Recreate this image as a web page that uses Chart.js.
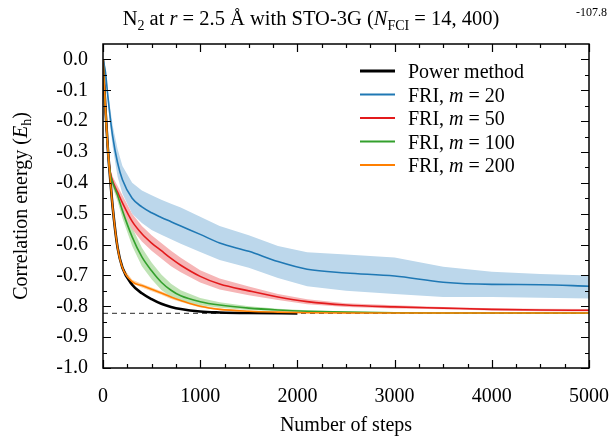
<!DOCTYPE html>
<html>
<head>
<meta charset="utf-8">
<script src="https://cdn.jsdelivr.net/npm/chart.js@4.4.1/dist/chart.umd.min.js"></script>
<style>
  html, body { margin: 0; padding: 0; background: #fff; }
  #wrap { width: 613px; height: 437px; }
</style>
</head>
<body>
<div id="wrap"><canvas id="chart" width="613" height="437"></canvas></div>
<script>
// ---- Data ----
const steps = [0, 25, 50, 75, 100, 150, 200, 300, 400, 500, 600, 700, 800, 1000, 1200, 1500, 1800, 2100, 2500, 3000, 3500, 4000, 4500, 5000];

const powerSteps = [0, 25, 50, 75, 100, 150, 200, 300, 400, 500, 600, 700, 800, 1000, 1200, 1500, 2000];
const powerE     = [0, -0.16, -0.29, -0.39, -0.48, -0.61, -0.675, -0.73, -0.758, -0.777, -0.792, -0.802, -0.809, -0.817, -0.820, -0.822, -0.823];

const m20E   = [0, -0.04, -0.12, -0.19, -0.25, -0.335, -0.39, -0.45, -0.478, -0.497, -0.512, -0.526, -0.54, -0.567, -0.595, -0.622, -0.655, -0.68, -0.692, -0.702, -0.722, -0.729, -0.73, -0.735];
const m20Hi  = [0, -0.03, -0.10, -0.16, -0.215, -0.29, -0.345, -0.40, -0.425, -0.44, -0.455, -0.468, -0.48, -0.51, -0.54, -0.57, -0.605, -0.625, -0.632, -0.642, -0.672, -0.688, -0.695, -0.70];
const m20Lo  = [0, -0.05, -0.14, -0.22, -0.285, -0.38, -0.435, -0.50, -0.53, -0.553, -0.568, -0.583, -0.597, -0.624, -0.65, -0.675, -0.708, -0.735, -0.75, -0.76, -0.77, -0.77, -0.772, -0.775];

const m50E   = [0, -0.16, -0.29, -0.365, -0.395, -0.43, -0.465, -0.525, -0.565, -0.595, -0.62, -0.645, -0.667, -0.703, -0.728, -0.75, -0.77, -0.785, -0.796, -0.802, -0.806, -0.81, -0.812, -0.813];
const m50Hi  = [0, -0.16, -0.29, -0.355, -0.38, -0.41, -0.44, -0.50, -0.54, -0.57, -0.595, -0.62, -0.643, -0.683, -0.71, -0.736, -0.76, -0.777, -0.79, -0.797, -0.802, -0.806, -0.808, -0.809];
const m50Lo  = [0, -0.16, -0.29, -0.375, -0.41, -0.45, -0.49, -0.55, -0.59, -0.62, -0.645, -0.67, -0.69, -0.723, -0.746, -0.764, -0.78, -0.793, -0.802, -0.807, -0.81, -0.814, -0.816, -0.817];

const m100E  = [0, -0.16, -0.29, -0.37, -0.40, -0.44, -0.49, -0.575, -0.64, -0.685, -0.722, -0.748, -0.766, -0.785, -0.796, -0.806, -0.812, -0.816, -0.819, -0.821, -0.822, -0.822, -0.822, -0.822];
const m100Hi = [0, -0.16, -0.29, -0.36, -0.385, -0.42, -0.465, -0.545, -0.61, -0.658, -0.697, -0.727, -0.748, -0.773, -0.787, -0.80, -0.808, -0.813, -0.817, -0.82, -0.821, -0.821, -0.821, -0.821];
const m100Lo = [0, -0.16, -0.29, -0.38, -0.415, -0.46, -0.515, -0.605, -0.67, -0.712, -0.747, -0.769, -0.784, -0.797, -0.805, -0.812, -0.816, -0.819, -0.821, -0.822, -0.823, -0.823, -0.823, -0.823];

const m200E  = [0, -0.16, -0.29, -0.39, -0.48, -0.61, -0.675, -0.72, -0.733, -0.745, -0.757, -0.77, -0.781, -0.80, -0.81, -0.816, -0.819, -0.821, -0.822, -0.822, -0.822, -0.822, -0.822, -0.822];
const m200Hi = [0, -0.16, -0.29, -0.39, -0.48, -0.61, -0.672, -0.714, -0.727, -0.739, -0.751, -0.764, -0.776, -0.796, -0.807, -0.814, -0.818, -0.820, -0.821, -0.821, -0.821, -0.821, -0.821, -0.821];
const m200Lo = [0, -0.16, -0.29, -0.39, -0.48, -0.61, -0.678, -0.726, -0.739, -0.751, -0.763, -0.776, -0.786, -0.804, -0.813, -0.818, -0.820, -0.822, -0.823, -0.823, -0.823, -0.823, -0.823, -0.823];

const fciE = -0.823;
const xTicks = [0, 1000, 2000, 3000, 4000, 5000];
const yTicks = [0.0, -0.1, -0.2, -0.3, -0.4, -0.5, -0.6, -0.7, -0.8, -0.9, -1.0];
const legendLabels = ['Power method', '20', '50', '100', '200'];

// ---- Styling ----
const SERIF = '"Liberation Serif", "DejaVu Serif", serif';
const colors = { power: '#000000', m20: '#1f78b4', m50: '#e31a1c', m100: '#33a02c', m200: '#ff7f00' };
const bands  = { m20: '#bcd7eb', m50: '#f6b5b6', m100: '#bfe3b5', m200: '#fdd3a6' };

const pts = (xs, ys) => xs.map((x, i) => ({ x, y: ys[i] }));

const band = (lo, hi, col) => [
  { data: pts(steps, lo), borderWidth: 0, pointRadius: 0, fill: false, order: 20 },
  { data: pts(steps, hi), borderWidth: 0, pointRadius: 0, fill: '-1', backgroundColor: col, order: 20 }
];

const line = (xs, ys, col, w, order) => ({
  data: pts(xs, ys), borderColor: col, borderWidth: w, pointRadius: 0,
  fill: false, cubicInterpolationMode: 'monotone', order
});

const datasets = [
  ...band(m20Lo, m20Hi, bands.m20),
  ...band(m50Lo, m50Hi, bands.m50),
  ...band(m100Lo, m100Hi, bands.m100),
  ...band(m200Lo, m200Hi, bands.m200),
  { data: [{ x: 0, y: fciE }, { x: 5000, y: fciE }], borderColor: '#555', borderWidth: 1.3,
    borderDash: [5, 4], pointRadius: 0, fill: false, order: 15 },
  line(powerSteps, powerE, colors.power, 2.6, 5),
  line(steps, m20E, colors.m20, 1.6, 4),
  line(steps, m50E, colors.m50, 1.6, 3),
  line(steps, m100E, colors.m100, 1.6, 2),
  line(steps, m200E, colors.m200, 1.6, 1)
];

// ---- Text helpers (mixed italic / subscript) ----
function segFont(kind, size) {
  if (kind === 'i') return `italic ${size}px ${SERIF}`;
  if (kind === 's') return `${Math.round(size * 0.7)}px ${SERIF}`;
  return `${size}px ${SERIF}`;
}
function richWidth(ctx, segs, size) {
  return segs.reduce((w, [t, k]) => { ctx.font = segFont(k, size); return w + ctx.measureText(t).width; }, 0);
}
function drawRich(ctx, segs, size, x, y, align) {
  let cx = align === 'center' ? x - richWidth(ctx, segs, size) / 2 : x;
  ctx.textAlign = 'left';
  ctx.textBaseline = 'alphabetic';
  segs.forEach(([t, k]) => {
    ctx.font = segFont(k, size);
    ctx.fillText(t, cx, k === 's' ? y + size * 0.22 : y);
    cx += ctx.measureText(t).width;
  });
}

// ---- Frame, inward ticks, titles and legend ----
const decorations = {
  id: 'decorations',
  afterDraw(chart) {
    const { ctx, chartArea: a, scales: { x, y } } = chart;
    ctx.save();
    ctx.strokeStyle = '#000';
    ctx.lineWidth = 1.2;
    ctx.beginPath();
    for (let v = 0; v <= 5000; v += 250) {
      const px = Math.round(x.getPixelForValue(v)) + 0.5;
      const len = v % 1000 === 0 ? 8 : 4;
      ctx.moveTo(px, a.bottom); ctx.lineTo(px, a.bottom - len);
      ctx.moveTo(px, a.top); ctx.lineTo(px, a.top + len);
    }
    for (let i = 0; i <= 20; i++) {
      const v = -i * 0.05;
      const py = Math.round(y.getPixelForValue(v)) + 0.5;
      const len = i % 2 === 0 ? 8 : 4;
      ctx.moveTo(a.left, py); ctx.lineTo(a.left + len, py);
      ctx.moveTo(a.right, py); ctx.lineTo(a.right - len, py);
    }
    ctx.stroke();
    ctx.lineWidth = 1.5;
    ctx.strokeRect(a.left, a.top, a.right - a.left, a.bottom - a.top);

    ctx.fillStyle = '#000';
    // title
    drawRich(ctx, [['N', 'n'], ['2', 's'], [' at ', 'n'], ['r', 'i'], [' = 2.5 Å with STO-3G (', 'n'],
      ['N', 'i'], ['FCI', 's'], [' = 14, 400)', 'n']], 20.5, 311, 25, 'center');
    ctx.font = `12px ${SERIF}`;
    ctx.textAlign = 'left';
    ctx.fillText('-107.8', 576, 16);

    // axis titles
    ctx.font = `20px ${SERIF}`;
    ctx.textAlign = 'center';
    ctx.fillText('Number of steps', (a.left + a.right) / 2, 431);
    ctx.save();
    ctx.translate(27, (a.top + a.bottom) / 2);
    ctx.rotate(-Math.PI / 2);
    drawRich(ctx, [['Correlation energy (', 'n'], ['E', 'i'], ['h', 's'], [')', 'n']], 20, 0, 0, 'center');
    ctx.restore();

    // legend
    const keys = ['power', 'm20', 'm50', 'm100', 'm200'];
    keys.forEach((k, i) => {
      const yy = 71 + i * 23.5;
      ctx.strokeStyle = colors[k];
      ctx.lineWidth = k === 'power' ? 3 : 1.8;
      ctx.beginPath(); ctx.moveTo(360, yy); ctx.lineTo(395, yy); ctx.stroke();
      const segs = k === 'power' ? [[legendLabels[i], 'n']]
        : [['FRI, ', 'n'], ['m', 'i'], [' = ' + legendLabels[i], 'n']];
      drawRich(ctx, segs, 20, 408, yy + 7, 'left');
    });
    ctx.restore();
  }
};

new Chart(document.getElementById('chart'), {
  type: 'line',
  data: { datasets },
  plugins: [decorations],
  options: {
    responsive: false,
    animation: false,
    layout: { padding: { left: 0, right: 24, top: 44, bottom: 0 } },
    plugins: { legend: { display: false }, tooltip: { enabled: false } },
    scales: {
      x: {
        type: 'linear', min: 0, max: 5000,
        afterFit: s => { s.height = 69; s.paddingLeft = 0; s.paddingRight = 0; },
        afterBuildTicks: s => { s.ticks = xTicks.map(v => ({ value: v })); },
        grid: { display: false, drawTicks: false },
        border: { display: false },
        ticks: { color: '#000', font: { family: SERIF, size: 20 }, padding: 17, maxRotation: 0,
                 callback: v => String(v) }
      },
      y: {
        type: 'linear', min: -1.0, max: 0.05,
        afterFit: s => { s.width = 103; s.paddingTop = 0; s.paddingBottom = 0; },
        afterBuildTicks: s => { s.ticks = yTicks.map(v => ({ value: v })); },
        grid: { display: false, drawTicks: false },
        border: { display: false },
        ticks: { color: '#000', font: { family: SERIF, size: 20 }, padding: 15,
                 callback: v => v.toFixed(1) }
      }
    }
  }
});
</script>
</body>
</html>
